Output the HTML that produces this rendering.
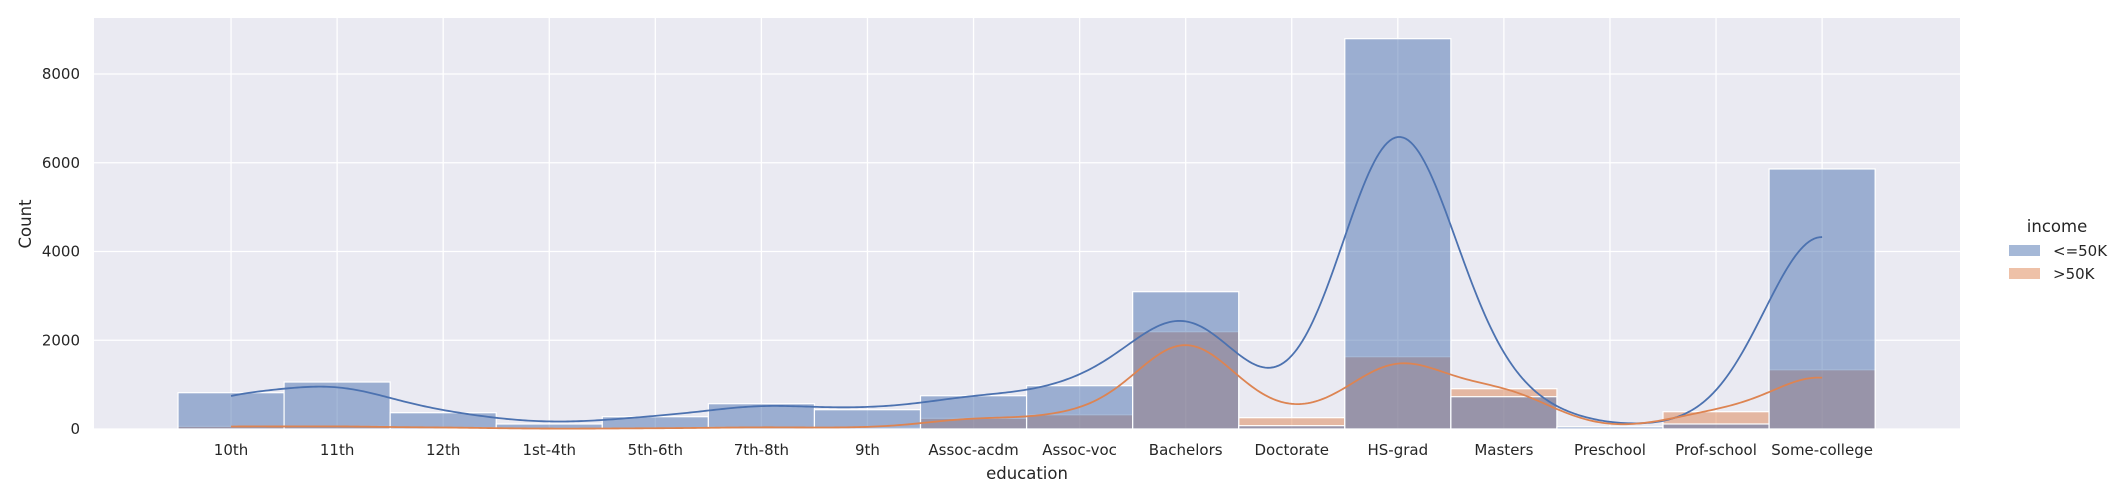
<!DOCTYPE html>
<html><head><meta charset="utf-8"><style>
html,body{margin:0;padding:0;background:#fff;}
svg{display:block;font-family:"DejaVu Sans","Liberation Sans",sans-serif;}
</style></head><body>
<svg id="chart" width="2109" height="500" viewBox="0 0 2109 500">
<rect x="94" y="18" width="1866" height="411" fill="#eaeaf2"/>
<g id="grid"></g><g id="bars"></g><g id="kde"></g><g id="axes"></g>
<text x="1027" y="479" font-size="16.5" fill="#262626" text-anchor="middle">education</text>
<text transform="translate(31,224) rotate(-90)" font-size="16.5" fill="#262626" text-anchor="middle">Count</text>
<g>
<text x="2057" y="232" font-size="16.5" fill="#262626" text-anchor="middle">income</text>
<rect x="2009" y="245" width="31" height="11" fill="#4c72b0" fill-opacity="0.5"/>
<text x="2053" y="256" font-size="15" fill="#262626">&lt;=50K</text>
<rect x="2009" y="268" width="31" height="11" fill="#dd8452" fill-opacity="0.5"/>
<text x="2053" y="279" font-size="15" fill="#262626">&gt;50K</text>
</g>
</svg>
<script>
const categories=["10th","11th","12th","1st-4th","5th-6th","7th-8th","9th","Assoc-acdm","Assoc-voc","Bachelors","Doctorate","HS-grad","Masters","Preschool","Prof-school","Some-college"];
const lowIncome=[818,1059,367,113,277,570,435,750,976,3094,75,8796,728,50,113,5860];
const highIncome=[60,60,33,6,16,40,27,241,322,2193,255,1630,908,0,390,1336];
const yTicks=[0,2000,4000,6000,8000];
const NS="http://www.w3.org/2000/svg";
const L=94,R=1960,T=18,B=429,yMax=9262,xMin=-1.292,xMax=16.30;
const xs=v=>L+(v-xMin)/(xMax-xMin)*(R-L);
const ys=v=>B-v/yMax*(B-T);
function mk(tag,attrs,parent){const e=document.createElementNS(NS,tag);for(const k in attrs)e.setAttribute(k,attrs[k]);parent.appendChild(e);return e;}
const grid=document.getElementById('grid'),axes=document.getElementById('axes'),bars=document.getElementById('bars'),kde=document.getElementById('kde');
yTicks.forEach(t=>{
 const l=mk('line',{x1:L,x2:R,y1:ys(t),y2:ys(t),stroke:'#fff','stroke-width':1.3},grid);
 
 
 const tx=mk('text',{x:80,y:ys(t)+5,'font-size':15,fill:'#262626','text-anchor':'end'},axes);
 tx.textContent=t;
 
 
});
categories.forEach((c,i)=>{
 const l=mk('line',{x1:xs(i),x2:xs(i),y1:T,y2:B,stroke:'#fff','stroke-width':1.3},grid);
 
 
 const tx=mk('text',{x:xs(i),y:455,'font-size':15,fill:'#262626','text-anchor':'middle'},axes);
 tx.textContent=c;
 
 
});
function drawBars(vals,color,name){
 vals.forEach((v,i)=>{
  const x0=xs(i-0.5),x1=xs(i+0.5);
  const r=mk('rect',{x:x0,y:ys(v),width:x1-x0,height:B-ys(v),fill:color,'fill-opacity':0.5,stroke:'#fff','stroke-width':1.2},bars);
  
  
 });
}
drawBars(highIncome,'#dd8452','gt50k');
drawBars(lowIncome,'#4c72b0','le50k');
function drawKde(vals,color,name){
 let n=0,m=0;vals.forEach((v,i)=>{n+=v;m+=v*i;});m/=n;
 let vr=0;vals.forEach((v,i)=>{vr+=v*(i-m)*(i-m);});vr/=n;
 const h=Math.sqrt(vr)*Math.pow(n,-0.2);
 let lo=vals.findIndex(v=>v>0),hi=vals.length-1;while(vals[hi]<=0)hi--;
 let d='';
 for(let k=0;k<=600;k++){
  const x=lo+(hi-lo)*k/600;let s=0;
  vals.forEach((v,i)=>{s+=v*Math.exp(-0.5*((x-i)/h)**2)/(h*Math.sqrt(2*Math.PI));});
  d+=(k?'L':'M')+xs(x).toFixed(2)+','+ys(s).toFixed(2);
 }
 const p=mk('path',{d:d,fill:'none',stroke:color,'stroke-width':1.8},kde);
 
 
}
drawKde(lowIncome,'#4c72b0','le50k');
drawKde(highIncome,'#dd8452','gt50k');
</script>
</body></html>
